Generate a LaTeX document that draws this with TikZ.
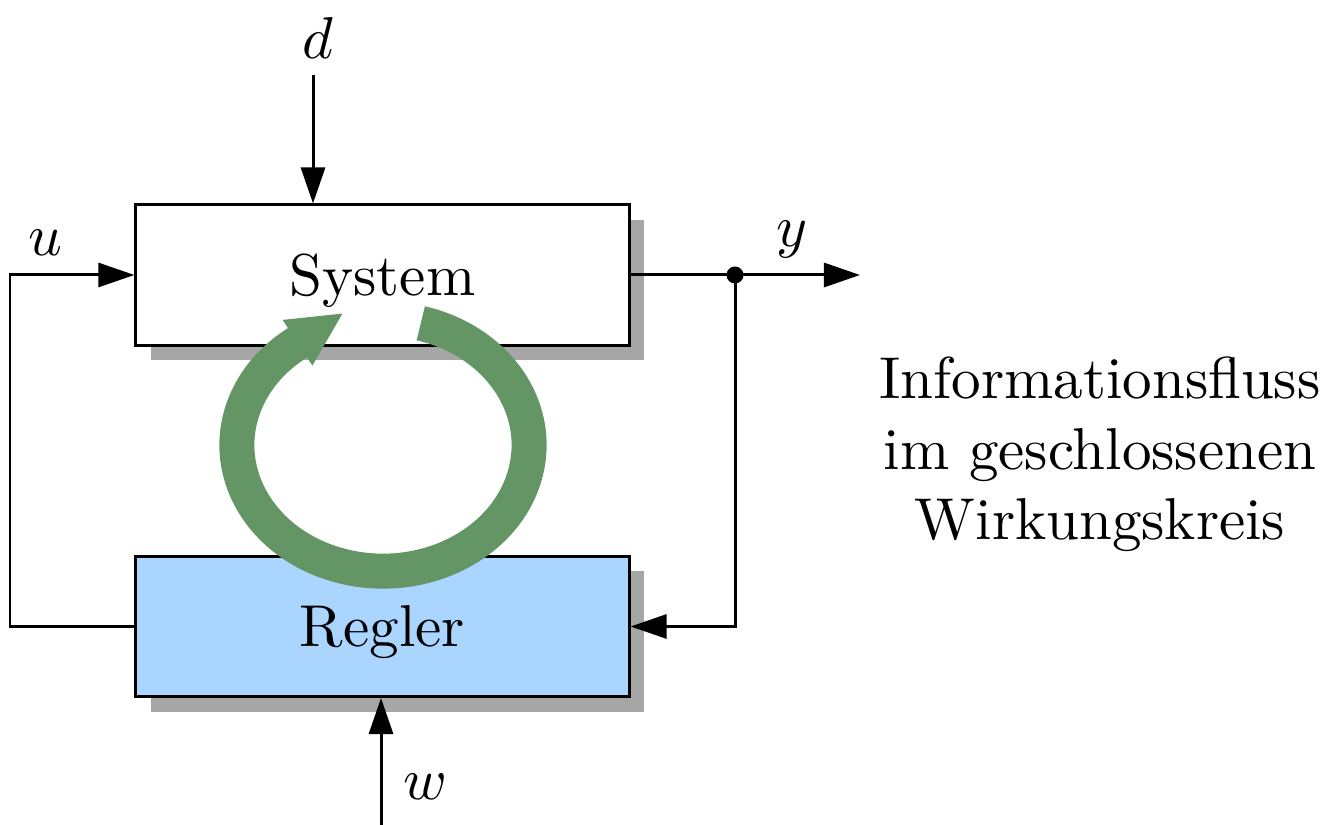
\documentclass[tikz,border=0pt]{standalone}
\usepackage{graphicx}
\usetikzlibrary{arrows.meta,shadows}
\definecolor{shadowgray}{RGB}{166,166,166}
\definecolor{reglerblue}{RGB}{170,213,255}
\definecolor{loopgreen}{RGB}{99,150,100}
% all lettering is 10pt type enlarged as a whole
\newcommand{\bigtxt}[1]{\scalebox{1.68}{#1}}
\begin{document}
\begin{tikzpicture}[x=0.01cm,y=0.01cm,
  every node/.style={font=\fontsize{10}{12}\selectfont},
  wire/.style={line width=0.85pt},
  sig/.style={wire, -{Triangle[length=0.36cm,width=0.24cm]}},
  block/.style={draw, line width=0.85pt, minimum width=4.93cm,
    minimum height=1.40cm, fill=white, text depth=0pt,
    drop shadow={shadow xshift=0.15cm, shadow yshift=-0.15cm,
      fill=shadowgray, opacity=1}}]
  \useasboundingbox (0,0) rectangle (1343,825);

  % blocks
  \node[block] (sys) at (382.5,550) {\bigtxt{System}};
  \node[block, fill=reglerblue] (reg) at (382.5,198.5) {\bigtxt{Regler}};

  % controller output u back to the plant
  \coordinate (uin) at (10,550);
  \draw[sig] (reg.west) -| (uin) -- (sys.west);
  \node (ulab) at (45,582) {\bigtxt{$u$}};

  % plant output y and feedback
  \coordinate (j) at (735,550);
  \coordinate (yout) at (860,550);
  \draw[sig] (sys.east) -- (yout);
  \draw[sig] (j) |- (reg.east);
  \fill (j) circle[radius=0.085cm];
  \node (ylab) at (792,585) {\bigtxt{$y$}};

  % disturbance d
  \coordinate (dtop) at (313,750);
  \draw[sig] (dtop) -- (dtop |- sys.north);
  \node (dlab) at (318,787) {\bigtxt{$d$}};

  % reference w
  \coordinate (wbot) at (381,0);
  \draw[sig] (wbot) -- (wbot |- reg.south);
  \node (wlab) at (425,38) {\bigtxt{$w$}};

  % caption
  \node[anchor=base] (info) at (1100,285)
    {\bigtxt{\begin{tabular}[b]{@{}c@{}}Informationsfluss\\
      im geschlossenen\\ Wirkungskreis\end{tabular}}};

  % closed loop arrow
  \coordinate (loopstart) at (420.8,501.7);
  \draw[line width=0.35cm, loopgreen, -{Triangle[length=0.55cm,width=0.5cm]}]
    (loopstart) arc[start angle=75, end angle=-233,
      x radius=1.46cm, y radius=1.26cm] -- ++(48.6,31.6);
\end{tikzpicture}
\end{document}
